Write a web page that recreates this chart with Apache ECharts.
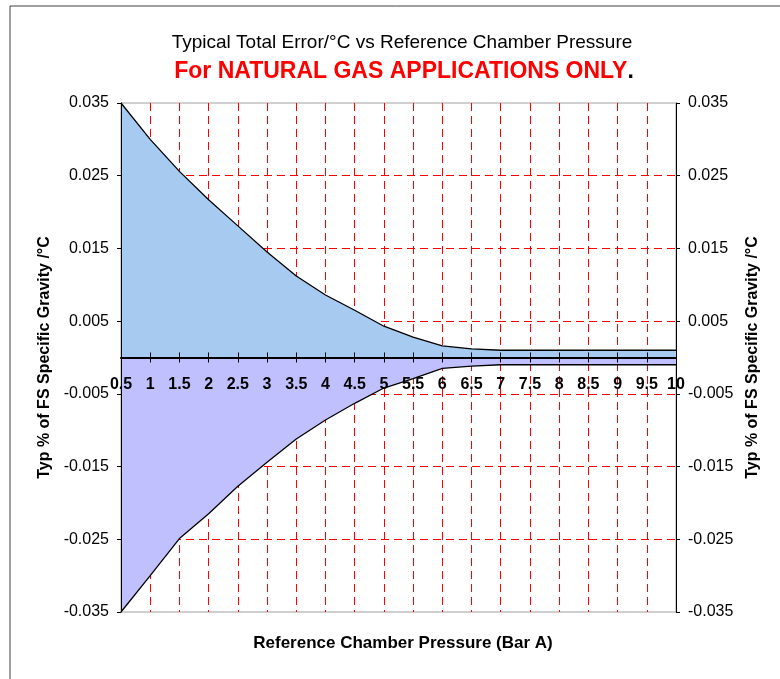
<!DOCTYPE html>
<html>
<head>
<meta charset="utf-8">
<script src="https://cdn.jsdelivr.net/npm/echarts@6/dist/echarts.min.js"></script>
<style>
html,body{margin:0;padding:0;background:#fff;}
#chart{width:780px;height:679px;}
</style>
</head>
<body>
<div id="chart"></div>
<script>
// ---- data ----
var pressure = [0.5,1,1.5,2,2.5,3,3.5,4,4.5,5,5.5,6,6.5,7,7.5,8,8.5,9,9.5,10];
var upperError = [0.035,0.030,0.0256,0.0217,0.0181,0.0145,0.0112,0.0086,0.0065,0.0043,0.0028,0.0016,0.0012,0.001,0.001,0.001,0.001,0.001,0.001,0.001];
var lowerError = [-0.035,-0.030,-0.0249,-0.0215,-0.0177,-0.0144,-0.0112,-0.0086,-0.0063,-0.0042,-0.0029,-0.0015,-0.0012,-0.001,-0.001,-0.001,-0.001,-0.001,-0.001,-0.001];
var yTickLabels = ['-0.035','-0.025','-0.015','-0.005','0.005','0.015','0.025','0.035'];
var titleText = 'Typical Total Error/\u00B0C vs Reference Chamber Pressure';
var subtitleText = 'For NATURAL GAS APPLICATIONS ONLY';
var xAxisName = 'Reference Chamber Pressure (Bar A)';
var yAxisName = 'Typ % of FS Specific Gravity /\u00B0C';

var FONT = '"Liberation Sans", Arial, sans-serif';
var chart = echarts.init(document.getElementById('chart'), null, {renderer: 'canvas'});

function pairs(xs, ys) { return xs.map(function (x, i) { return [x, ys[i]]; }); }
var half = 0.035;
function yLabel(v) {
  var idx = Math.round(v / 0.01);
  return yTickLabels[idx] !== undefined ? yTickLabels[idx] : '';
}

var GRID = {left: 121, right: 104, top: 103, bottom: 67};
var gridHeight = 679 - GRID.top - GRID.bottom;

var xBase = {type: 'value', min: 0.5, max: 10, interval: 0.5, gridIndex: 0, position: 'bottom'};
var yShift = {type: 'value', min: 0, max: 2 * half, interval: 0.01, gridIndex: 0};

var option = {
  animation: false,
  backgroundColor: '#ffffff',
  graphic: [
    {type: 'rect', shape: {x: 10, y: 6, width: 820, height: 720}, style: {fill: 'none', stroke: '#404040', lineWidth: 1}, silent: true, z: -10},
    {type: 'text', x: 402, y: 43, style: {text: titleText, font: 'normal 19px ' + FONT, fill: '#000', align: 'center', verticalAlign: 'middle'}},
    {type: 'text', x: 404, y: 72, style: {
      text: '{r|' + subtitleText + '}{k|.}', align: 'center', verticalAlign: 'middle',
      rich: {
        r: {fill: '#ff0000', font: 'bold 23px ' + FONT},
        k: {fill: '#000000', font: 'bold 23px ' + FONT}
      }}},
    {type: 'text', x: 403, y: 643, style: {text: xAxisName, font: 'bold 17px ' + FONT, fill: '#000', align: 'center', verticalAlign: 'middle'}}
  ],
  grid: Object.assign({show: true, borderColor: '#a0a0a0', borderWidth: 1, backgroundColor: '#ffffff'}, GRID),
  xAxis: [
    Object.assign({}, xBase, {
      axisLine: {show: false, onZero: false}, axisTick: {show: false}, axisLabel: {show: false},
      splitLine: {show: true, showMinLine: false, showMaxLine: false, lineStyle: {color: '#ff0000', type: [8, 5], width: 1}}
    }),
    Object.assign({}, xBase, {
      z: 10,
      axisLine: {show: true, onZero: true, onZeroAxisIndex: 3, lineStyle: {color: '#000', width: 2}},
      axisTick: {show: true, inside: false, length: 5, lineStyle: {color: '#000', width: 1}},
      axisLabel: {show: false},
      splitLine: {show: false}
    }),
    Object.assign({}, xBase, {
      z: 10,
      axisLine: {show: false, onZero: true, onZeroAxisIndex: 3},
      axisTick: {show: true, inside: true, length: 5, lineStyle: {color: '#000', width: 1}},
      axisLabel: {show: false},
      splitLine: {show: false}
    }),
    Object.assign({}, xBase, {
      z: 11,
      offset: -gridHeight / 2,
      axisLine: {show: false, onZero: false},
      axisTick: {show: false},
      axisLabel: {show: true, margin: 19, color: '#000', fontFamily: FONT, fontSize: 16, fontWeight: 'bold', showMinLabel: true, showMaxLabel: true},
      splitLine: {show: false}
    })
  ],
  yAxis: [
    Object.assign({}, yShift, {
      position: 'left',
      axisLine: {show: false, onZero: false}, axisTick: {show: false}, axisLabel: {show: false},
      splitLine: {show: true, showMinLine: false, showMaxLine: false, lineStyle: {color: '#ff0000', type: [8, 5], width: 1}}
    }),
    Object.assign({}, yShift, {
      position: 'left', z: 10,
      axisLine: {show: true, onZero: false, lineStyle: {color: '#000', width: 1}},
      axisTick: {show: true, length: 4, lineStyle: {color: '#000'}},
      axisLabel: {show: true, margin: 12, color: '#000', fontFamily: FONT, fontSize: 16, formatter: yLabel},
      splitLine: {show: false},
      name: yAxisName, nameLocation: 'middle', nameRotate: 90, nameGap: 63,
      nameTextStyle: {color: '#000', fontFamily: FONT, fontSize: 16, fontWeight: 'bold'}
    }),
    Object.assign({}, yShift, {
      position: 'right', z: 10,
      axisLine: {show: true, onZero: false, lineStyle: {color: '#000', width: 1}},
      axisTick: {show: true, length: 4, lineStyle: {color: '#000'}},
      axisLabel: {show: true, margin: 12, color: '#000', fontFamily: FONT, fontSize: 16, formatter: yLabel},
      splitLine: {show: false},
      name: yAxisName, nameLocation: 'middle', nameRotate: 90, nameGap: 68,
      nameTextStyle: {color: '#000', fontFamily: FONT, fontSize: 16, fontWeight: 'bold'}
    }),
    {type: 'value', min: -half, max: half, show: false, gridIndex: 0, position: 'left', axisLine: {onZero: false}, splitLine: {show: false}}
  ],
  series: [
    {
      type: 'line', xAxisIndex: 0, yAxisIndex: 3, data: pairs(pressure, upperError),
      showSymbol: false, symbol: 'none', smooth: false,
      lineStyle: {color: '#000', width: 1.3},
      areaStyle: {color: '#a6caf0', opacity: 1, origin: 0}
    },
    {
      type: 'line', xAxisIndex: 0, yAxisIndex: 3, data: pairs(pressure, lowerError),
      showSymbol: false, symbol: 'none', smooth: false,
      lineStyle: {color: '#000', width: 1.3},
      areaStyle: {color: '#c0c0ff', opacity: 1, origin: 0}
    }
  ]
};
chart.setOption(option);
</script>
</body>
</html>
